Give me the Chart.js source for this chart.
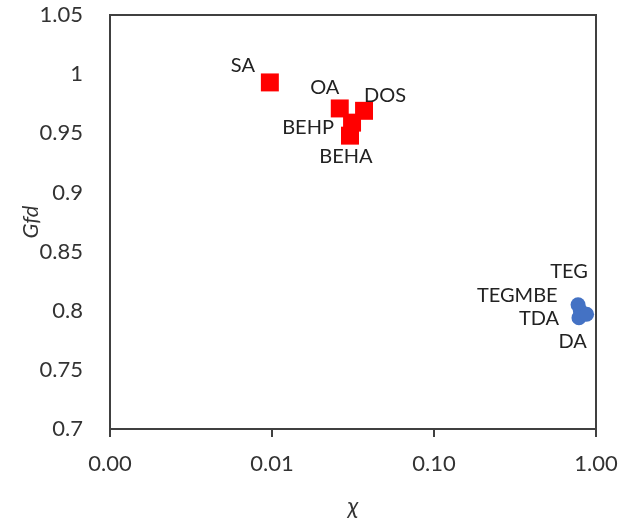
<!DOCTYPE html>
<html>
<head>
<meta charset="utf-8">
<script src="https://cdn.jsdelivr.net/npm/chart.js@4"></script>
<style>
  body { margin: 0; background: #fff; }
  #wrap { width: 622px; height: 523px; }
</style>
</head>
<body>
<div id="wrap"><canvas id="gfdChart" width="622" height="523"></canvas></div>
<script>
// first group (red squares)
const groupANames = ['SA', 'OA', 'DOS', 'BEHP', 'BEHA'];
const groupAChi = [0.0097, 0.0262, 0.037, 0.0312, 0.0303];
const groupAGfd = [0.993, 0.971, 0.969, 0.959, 0.948];

// second group (blue circles)
const groupBNames = ['TEG', 'TEGMBE', 'TDA', 'DA'];
const groupBChi = [0.775, 0.80, 0.785, 0.875];
const groupBGfd = [0.805, 0.800, 0.794, 0.797];

const xTicks = [0.001, 0.01, 0.1, 1];
const yTicks = [0.7, 0.75, 0.8, 0.85, 0.9, 0.95, 1, 1.05];

// where each name sits relative to its marker, in px
const labelOffsets = [
    [[-27, -17], [-15, -21], [21, -15], [-44, 5], [-4, 21]],
    [[-9, -33], [-63, -15], [-40, 1], [-14, 27]]
];

const axisColor = '#404040';
Chart.defaults.font.family = "Lato, 'Open Sans', sans-serif";
Chart.defaults.color = '#333';

const toPoints = (xs, ys) => xs.map((x, i) => ({x: x, y: ys[i]}));

// names next to the markers + top/right frame lines
const pointNames = {
    id: 'pointNames',
    afterDatasetsDraw(chart) {
        const ctx = chart.ctx;
        const names = [groupANames, groupBNames];
        ctx.save();
        ctx.font = "20px Lato, 'Open Sans', sans-serif";
        ctx.fillStyle = '#222';
        ctx.textAlign = 'center';
        ctx.textBaseline = 'middle';
        names.forEach((list, d) => {
            const meta = chart.getDatasetMeta(d);
            list.forEach((name, i) => {
                const el = meta.data[i];
                const off = labelOffsets[d][i];
                ctx.fillText(name, el.x + off[0], el.y + off[1]);
            });
        });
        ctx.restore();
    },
    beforeDatasetsDraw(chart) {
        const {ctx, chartArea} = chart;
        ctx.save();
        ctx.strokeStyle = axisColor;
        ctx.lineWidth = 2;
        ctx.beginPath();
        ctx.moveTo(chartArea.left, chartArea.top);
        ctx.lineTo(chartArea.right, chartArea.top);
        ctx.lineTo(chartArea.right, chartArea.bottom);
        ctx.stroke();
        ctx.restore();
    }
};

new Chart(document.getElementById('gfdChart'), {
    type: 'scatter',
    data: {
        datasets: [{
            data: toPoints(groupAChi, groupAGfd),
            backgroundColor: '#FF0000',
            borderWidth: 0,
            pointStyle: 'rect',
            pointRadius: 12.7,
            pointHoverRadius: 12.7
        }, {
            data: toPoints(groupBChi, groupBGfd),
            backgroundColor: '#4472C4',
            borderWidth: 0,
            pointStyle: 'circle',
            pointRadius: 7.5,
            pointHoverRadius: 7.5
        }]
    },
    options: {
        responsive: false,
        animation: false,
        layout: {padding: {top: 15, right: 26, left: 0, bottom: 0}},
        plugins: {legend: {display: false}, tooltip: {enabled: false}},
        scales: {
            x: {
                type: 'logarithmic',
                min: 0.001,
                max: 1,
                afterBuildTicks: (scale) => { scale.ticks = xTicks.map(v => ({value: v})); },
                afterFit: (scale) => {
                    scale.height = 94;
                    scale.paddingLeft = 0;
                    scale.paddingRight = 0;
                },
                ticks: {
                    font: {size: 22},
                    padding: 14,
                    maxRotation: 0,
                    callback: (v) => Number(v).toFixed(2)
                },
                grid: {display: true, drawOnChartArea: false, drawTicks: true, tickLength: 8, color: axisColor, lineWidth: 2},
                border: {display: true, color: axisColor, width: 2},
                title: {display: true, text: 'χ', font: {size: 24, style: 'italic'}, padding: {bottom: 2}}
            },
            y: {
                min: 0.7,
                max: 1.05,
                afterBuildTicks: (scale) => { scale.ticks = yTicks.map(v => ({value: v})); },
                afterFit: (scale) => {
                    scale.width = 110;
                    scale.paddingTop = 0;
                    scale.paddingBottom = 0;
                },
                ticks: {
                    font: {size: 22},
                    padding: 19,
                    callback: (v) => String(parseFloat(Number(v).toFixed(2)))
                },
                grid: {display: false},
                border: {display: true, color: axisColor, width: 2},
                title: {display: true, text: 'Gfd', font: {size: 22, style: 'italic'}, padding: {top: 18}}
            }
        }
    },
    plugins: [pointNames]
});
</script>
</body>
</html>
